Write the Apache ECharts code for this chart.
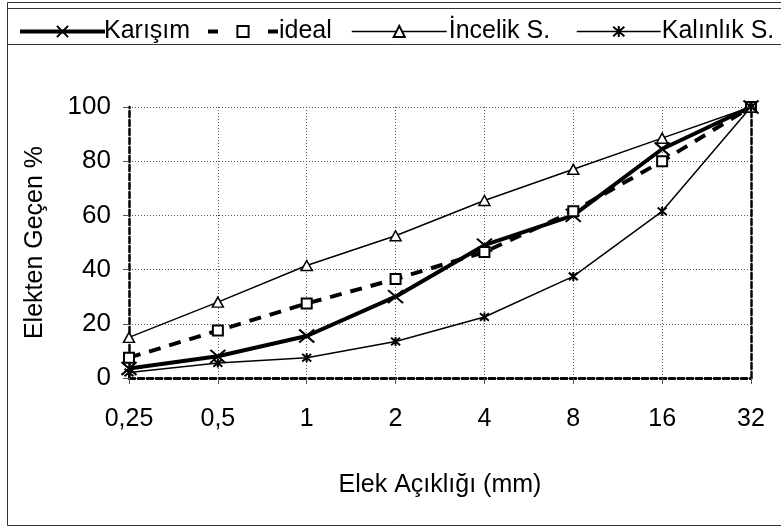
<!DOCTYPE html>
<html><head><meta charset="utf-8">
<script src="https://cdn.jsdelivr.net/npm/echarts@6/dist/echarts.min.js"></script>
<style>html,body{margin:0;padding:0;background:#fff}#c{width:781px;height:530px}</style>
</head><body><div id="c"></div>
<script>
var categories = ['0,25','0,5','1','2','4','8','16','32'];
var karisim  = [3.5, 8, 15.5, 30, 49, 60, 84.5, 100];
var ideal    = [7.5, 17.5, 27.5, 36.5, 46.5, 61.5, 80, 100];
var incelik  = [15, 28, 41.5, 52.5, 65.5, 77, 88.5, 100];
var kalinlik = [2, 5.5, 7.5, 13.5, 22.5, 37.5, 61.5, 100];
var seriesNames = ['Karışım', 'ideal', 'İncelik S.', 'Kalınlık S.'];
var yTicks = {min: 0, max: 100, interval: 20};

var FONT = 'Liberation Sans';
var crossPath = 'path://M0,0L10,10M10,0L0,10';
var starPath = 'path://M0,0L10,10M10,0L0,10M5,-1L5,11';

var chart = echarts.init(document.getElementById('c'), null, {renderer: 'canvas'});

function legendAt(name, left, w, lw, dash, padL) {
  return {
    data: [name], left: left, top: 14, itemWidth: w, itemHeight: 14, itemGap: 0,
    textStyle: {fontFamily: FONT, fontSize: 25, color: '#000', padding: [0,0,0,padL]},
    lineStyle: {width: lw, type: dash || 'solid', color: '#000'},
    inactiveColor: '#000'
  };
}

var dotted = {show: true, lineStyle: {color: '#555', width: 1, type: [1, 2]}};

chart.setOption({
  animation: false,
  backgroundColor: '#fff',
  graphic: [
    {type: 'rect', shape: {x: 7.5, y: 2.5, width: 800, height: 523}, style: {fill: 'none', stroke: '#333', lineWidth: 1}, z: -1},
    {type: 'rect', shape: {x: 7.5, y: 8.5, width: 800, height: 36}, style: {fill: 'none', stroke: '#333', lineWidth: 1}, z: -1}
  ],
  legend: [
    legendAt(seriesNames[0], 13, 85, 4, null, -6),
    legendAt(seriesNames[1], 201, 70, 4, [10, 20], -4),
    legendAt(seriesNames[2], 346, 95, 1.5, null, -3),
    legendAt(seriesNames[3], 571, 84, 1.5, null, -4)
  ],
  grid: {left: 129, right: 30, top: 107, bottom: 152, containLabel: false},
  xAxis: [{
    type: 'category', data: categories, boundaryGap: false,
    name: 'Elek Açıklığı (mm)', nameLocation: 'middle', nameGap: 95,
    nameTextStyle: {fontFamily: FONT, fontSize: 25, color: '#000'},
    axisLine: {show: true, lineStyle: {color: '#000', width: 2.5, type: [6, 3]}},
    axisTick: {show: true, alignWithLabel: true, length: 6, lineStyle: {color: '#555'}},
    axisLabel: {fontFamily: FONT, fontSize: 25, color: '#000', margin: 29},
    splitLine: dotted
  }, {
    type: 'category', data: categories, boundaryGap: false, position: 'top',
    axisLine: {show: true, lineStyle: {color: '#000', width: 2.5, type: [6, 3]}},
    axisTick: {show: false}, axisLabel: {show: false}, splitLine: {show: false}
  }],
  yAxis: [{
    type: 'value', min: yTicks.min, max: yTicks.max, interval: yTicks.interval,
    name: 'Elekten Geçen %', nameLocation: 'middle', nameGap: 81,
    nameTextStyle: {fontFamily: FONT, fontSize: 25, color: '#000'},
    axisLine: {show: true, lineStyle: {color: '#000', width: 2.5, type: [6, 3]}},
    axisTick: {show: true, length: 6, lineStyle: {color: '#555'}},
    axisLabel: {fontFamily: FONT, fontSize: 26, color: '#000', margin: 18},
    splitLine: dotted
  }, {
    type: 'value', min: yTicks.min, max: yTicks.max, interval: yTicks.interval, position: 'right',
    axisLine: {show: true, lineStyle: {color: '#000', width: 2.5, type: [6, 3]}},
    axisTick: {show: false}, axisLabel: {show: false}, splitLine: {show: false}
  }],
  series: [
    {name: seriesNames[0], type: 'line', data: karisim, symbol: crossPath, symbolSize: [15, 13],
     itemStyle: {color: '#fff', borderColor: '#000', borderWidth: 2},
     lineStyle: {color: '#000', width: 4}},
    {name: seriesNames[1], type: 'line', data: ideal, symbol: 'rect', symbolSize: 10,
     itemStyle: {color: '#fff', borderColor: '#000', borderWidth: 2},
     lineStyle: {color: '#000', width: 4, type: [12, 9]}},
    {name: seriesNames[2], type: 'line', data: incelik, symbol: 'triangle', symbolSize: [11, 10],
     itemStyle: {color: '#fff', borderColor: '#000', borderWidth: 1.5},
     lineStyle: {color: '#000', width: 1.5}},
    {name: seriesNames[3], type: 'line', data: kalinlik, symbol: starPath, symbolSize: 9,
     itemStyle: {color: '#fff', borderColor: '#000', borderWidth: 2},
     lineStyle: {color: '#000', width: 1.5}}
  ]
});
</script></body></html>
